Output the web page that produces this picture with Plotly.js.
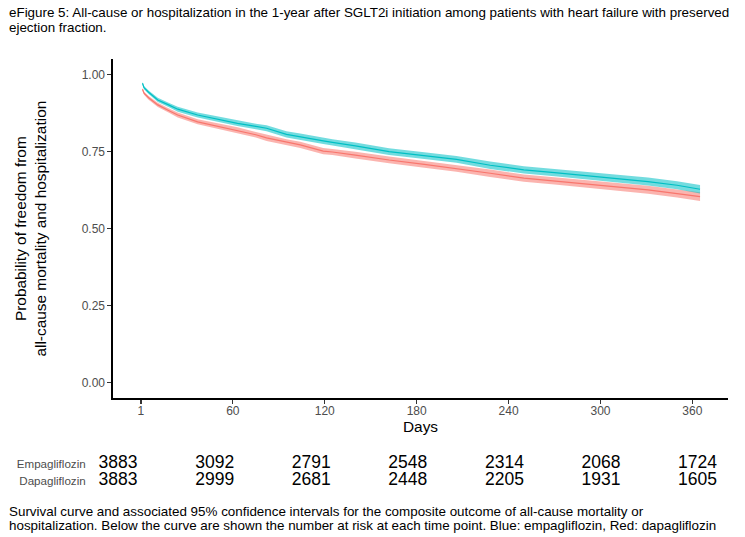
<!DOCTYPE html>
<html>
<head>
<meta charset="utf-8">
<script src="https://cdn.plot.ly/plotly-3.0.1.min.js"></script>
<style>html,body{margin:0;padding:0;background:#fff;}#chart{width:745px;height:537px;}</style>
</head>
<body>
<div id="chart"></div>
<script>
// ---- data ----
const days = [1,2,5,11,18,24,37,50,63,75,82,95,104,119,125,140,162,185,206,228,250,270,287,310,331,350,365];

const empaSurv  = [0.972,0.958,0.943,0.918,0.902,0.888,0.869,0.855,0.842,0.832,0.826,0.806,0.799,0.785,0.780,0.769,0.750,0.737,0.725,0.706,0.691,0.682,0.674,0.663,0.653,0.641,0.628];
const empaUpper = [0.976,0.963,0.949,0.925,0.909,0.896,0.877,0.864,0.851,0.841,0.836,0.816,0.809,0.795,0.790,0.780,0.761,0.748,0.736,0.718,0.703,0.694,0.686,0.676,0.666,0.654,0.642];
const empaLower = [0.968,0.953,0.937,0.911,0.895,0.880,0.861,0.846,0.833,0.823,0.816,0.796,0.789,0.775,0.770,0.758,0.739,0.726,0.714,0.694,0.679,0.670,0.662,0.650,0.640,0.628,0.614];

const dapaSurv  = [0.953,0.940,0.925,0.902,0.884,0.869,0.847,0.833,0.820,0.805,0.795,0.780,0.772,0.752,0.749,0.739,0.723,0.709,0.696,0.680,0.664,0.655,0.647,0.637,0.626,0.614,0.604];
const dapaUpper = [0.957,0.945,0.931,0.909,0.891,0.877,0.855,0.842,0.829,0.814,0.805,0.790,0.782,0.762,0.759,0.750,0.734,0.720,0.707,0.692,0.676,0.667,0.659,0.650,0.639,0.627,0.618];
const dapaLower = [0.949,0.935,0.919,0.895,0.877,0.861,0.839,0.824,0.811,0.796,0.785,0.770,0.762,0.742,0.739,0.728,0.712,0.698,0.685,0.668,0.652,0.643,0.635,0.624,0.613,0.601,0.590];

const riskDays = [0,60,120,180,240,300,360];
const riskTickText = ["1","60","120","180","240","300","360"];
const empaAtRisk = [3883,3092,2791,2548,2314,2068,1724];
const dapaAtRisk = [3883,2999,2681,2448,2205,1931,1605];
const groupNames = ["Empagliflozin","Dapagliflozin"];
const groupRows = [2, 1];

const yTickVals = [0,0.25,0.5,0.75,1];
const yTickText = ["0.00","0.25","0.50","0.75","1.00"];

const titleLines = ["eFigure 5: All-cause or hospitalization in the 1-year after SGLT2i initiation among patients with heart failure with preserved","ejection fraction."];
const captionLines = ["Survival curve and associated 95% confidence intervals for the composite outcome of all-cause mortality or","hospitalization. Below the curve are shown the number at risk at each time point. Blue: empagliflozin, Red: dapagliflozin"];

// ---- styling ----
const RED = "#F8766D", TEAL = "#00BFC4";
const RED_FILL = "rgba(248,118,109,0.55)", TEAL_FILL = "rgba(0,191,196,0.55)";
const FONT = "Liberation Sans, Arial, sans-serif";

function band(x, lo, hi, fill) {
  return [
    {x: x, y: lo, type: "scatter", mode: "lines", line: {width: 0, color: fill}, hoverinfo: "skip", showlegend: false, xaxis: "x", yaxis: "y"},
    {x: x, y: hi, type: "scatter", mode: "lines", line: {width: 0, color: fill}, fill: "tonexty", fillcolor: fill, hoverinfo: "skip", showlegend: false, xaxis: "x", yaxis: "y"}
  ];
}

function riskRow(values, row) {
  return {x: riskDays, y: riskDays.map(() => row), text: values.map(String), type: "scatter", mode: "text",
    textposition: "middle center", textfont: {family: FONT, size: 17.5, color: "#000"},
    hoverinfo: "skip", showlegend: false, xaxis: "x2", yaxis: "y2"};
}

const traces = [
  ...band(days, dapaLower, dapaUpper, RED_FILL),
  ...band(days, empaLower, empaUpper, TEAL_FILL),
  {x: days, y: dapaSurv, type: "scatter", mode: "lines", line: {color: RED, width: 1.2}, name: groupNames[1], showlegend: false, xaxis: "x", yaxis: "y"},
  {x: days, y: empaSurv, type: "scatter", mode: "lines", line: {color: TEAL, width: 1.2}, name: groupNames[0], showlegend: false, xaxis: "x", yaxis: "y"},
  riskRow(empaAtRisk, groupRows[0]),
  riskRow(dapaAtRisk, groupRows[1])
];

// pixel helpers (plot area: l=80, r=10, t=20, b=20 -> 655 x 497)
const L = 80, T = 20, W = 655, H = 497;
const px = v => (v - L) / W;
const py = v => (T + H - v) / H;

const capFont = {family: FONT, size: 13.4, color: "#000"};

const layout = {
  width: 745, height: 537,
  margin: {l: L, r: 10, t: T, b: 20, pad: 0},
  paper_bgcolor: "#fff", plot_bgcolor: "#fff",
  font: {family: FONT, color: "#000"},
  showlegend: false,
  xaxis: {
    domain: [px(113), px(728)], anchor: "y",
    range: [-18.25, 383.25],
    tickvals: riskDays, ticktext: riskTickText,
    ticks: "outside", ticklen: 4, tickwidth: 1.2, tickcolor: "#333",
    tickfont: {family: FONT, size: 12, color: "#4D4D4D"},
    ticklabelstandoff: -3,
    showline: true, linecolor: "#000", linewidth: 1.6,
    showgrid: false, zeroline: false,
    title: {text: "Days", font: {family: FONT, size: 15.4, color: "#000"}, standoff: 3}
  },
  yaxis: {
    domain: [py(398), py(59.3)], anchor: "x",
    range: [-0.05, 1.05],
    tickvals: yTickVals, ticktext: yTickText,
    ticks: "outside", ticklen: 4, tickwidth: 1.2, tickcolor: "#333",
    tickfont: {family: FONT, size: 12, color: "#4D4D4D"},
    showline: true, linecolor: "#000", linewidth: 1.6,
    showgrid: false, zeroline: false,
    title: {text: "Probability of freedom from<br>all-cause mortality and hospitalization", font: {family: FONT, size: 15.4, color: "#000"}, standoff: 31}
  },
  xaxis2: {
    domain: [px(88.7), px(735)], anchor: "y2",
    range: [-18.25, 383.25],
    visible: false, showgrid: false, zeroline: false
  },
  yaxis2: {
    domain: [py(497.5), py(446.5)], anchor: "x2",
    range: [0, 3],
    tickvals: groupRows, ticktext: groupNames,
    ticks: "", showline: false, showgrid: false, zeroline: false,
    tickfont: {family: FONT, size: 11.6, color: "#4D4D4D"},
    ticklabelstandoff: 2
  },
  annotations: [
    {text: titleLines[0], xref: "paper", yref: "paper", x: px(7), y: py(12.5), xanchor: "left", yanchor: "middle", showarrow: false, font: capFont},
    {text: titleLines[1], xref: "paper", yref: "paper", x: px(7), y: py(27.5), xanchor: "left", yanchor: "middle", showarrow: false, font: capFont},
    {text: captionLines[0], xref: "paper", yref: "paper", x: px(7), y: py(511), xanchor: "left", yanchor: "middle", showarrow: false, font: capFont},
    {text: captionLines[1], xref: "paper", yref: "paper", x: px(7), y: py(525), xanchor: "left", yanchor: "middle", showarrow: false, font: capFont}
  ]
};

Plotly.newPlot("chart", traces, layout, {displayModeBar: false, staticPlot: true});
</script>
</body>
</html>
